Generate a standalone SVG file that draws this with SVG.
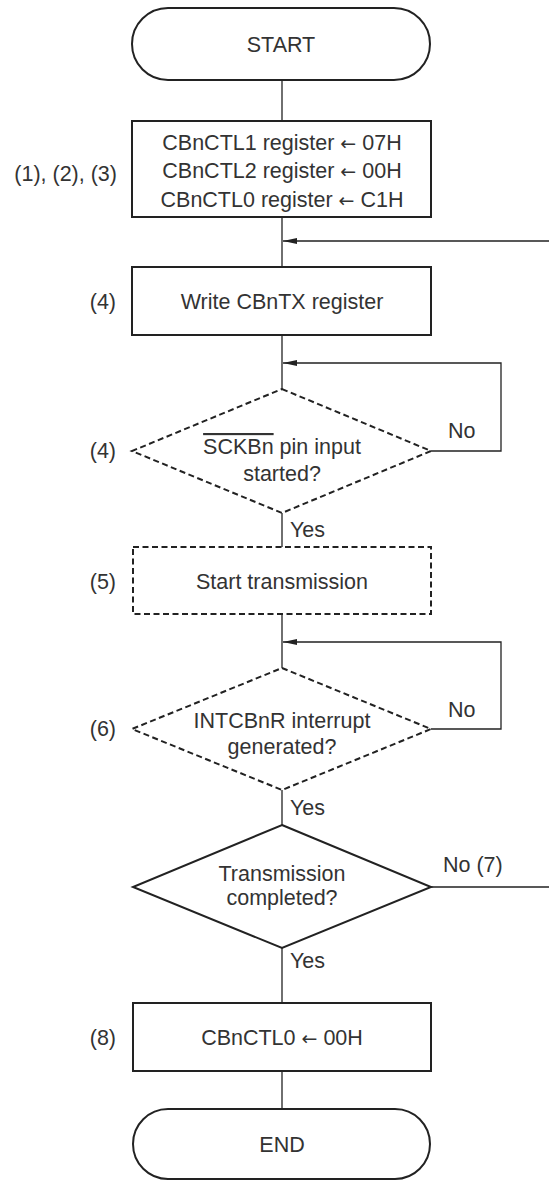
<svg xmlns="http://www.w3.org/2000/svg" width="549" height="1180" viewBox="0 0 549 1180">
<style>
text{font-family:"Liberation Sans",Arial,sans-serif;font-size:21.5px;fill:#333}
.c{text-anchor:middle}
.l{text-anchor:end}
.ar{font-family:"DejaVu Sans",sans-serif;font-size:19px}
.sh{fill:#fff;stroke:#222;stroke-width:2}
.d{stroke-dasharray:6 3.5}
.cn{fill:none;stroke:#222;stroke-width:1.3}
</style>
<defs>
<marker id="ah" viewBox="0 0 14 6" refX="14" refY="3" markerWidth="14" markerHeight="6" markerUnits="userSpaceOnUse" orient="auto">
<path d="M0,0 L14,3 L0,6 z" fill="#222"/>
</marker>
</defs>
<g id="connectors">
<path class="cn" d="M282,80 V121"/>
<path class="cn" d="M282,217 V267"/>
<path class="cn" d="M282,335 V389"/>
<path class="cn" d="M431,451 H501 V363 H283" marker-end="url(#ah)"/>
<path class="cn" d="M282,513 V547"/>
<path class="cn" d="M282,614 V668"/>
<path class="cn" d="M431,729 H501 V642 H283" marker-end="url(#ah)"/>
<path class="cn" d="M282,790 V825"/>
<path class="cn" d="M431,887 H560 V241 H283" marker-end="url(#ah)"/>
<path class="cn" d="M282,948 V1003"/>
<path class="cn" d="M282,1071 V1109"/>
<text x="448" y="438">No</text>
<text x="290" y="537">Yes</text>
<text x="448" y="717">No</text>
<text x="290" y="815">Yes</text>
<text x="443" y="872">No (7)</text>
<text x="290" y="968">Yes</text>
</g>
<g id="start">
<rect class="sh" x="132" y="8" width="298" height="72" rx="36"/>
<text class="c" x="281" y="52">START</text>
</g>
<g id="init">
<rect class="sh" x="132" y="121" width="299" height="96"/>
<text class="c" x="282" y="150">CBnCTL1 register <tspan class="ar">←</tspan> 07H</text>
<text class="c" x="282" y="178">CBnCTL2 register <tspan class="ar">←</tspan> 00H</text>
<text class="c" x="282" y="207">CBnCTL0 register <tspan class="ar">←</tspan> C1H</text>
<text class="l" x="117" y="181">(1), (2), (3)</text>
</g>
<g id="write">
<rect class="sh" x="132" y="267" width="299" height="68"/>
<text class="c" x="282" y="309">Write CBnTX register</text>
<text class="l" x="116" y="309">(4)</text>
</g>
<g id="sck">
<polygon class="sh d" points="282,389 431,451 282,513 132,451"/>
<text class="c" x="282" y="454"><tspan text-decoration="overline">SCKBn</tspan> pin input</text>
<text class="c" x="282" y="481">started?</text>
<text class="l" x="116" y="458">(4)</text>
</g>
<g id="starttx">
<rect class="sh d" x="133" y="547" width="298" height="67"/>
<text class="c" x="282" y="589">Start transmission</text>
<text class="l" x="116" y="589">(5)</text>
</g>
<g id="intr">
<polygon class="sh d" points="282,668 431,729 282,790 132,729"/>
<text class="c" x="282" y="728">INTCBnR interrupt</text>
<text class="c" x="282" y="754">generated?</text>
<text class="l" x="116" y="736">(6)</text>
</g>
<g id="done">
<polygon class="sh" points="282,825 431,887 282,948 133,887"/>
<text class="c" x="282" y="881">Transmission</text>
<text class="c" x="282" y="905">completed?</text>
</g>
<g id="clear">
<rect class="sh" x="133" y="1003" width="298" height="68"/>
<text class="c" x="282" y="1045">CBnCTL0 <tspan class="ar">←</tspan> 00H</text>
<text class="l" x="116" y="1045">(8)</text>
</g>
<g id="end">
<rect class="sh" x="133" y="1109" width="297" height="70" rx="35"/>
<text class="c" x="282" y="1152">END</text>
</g>
</svg>
